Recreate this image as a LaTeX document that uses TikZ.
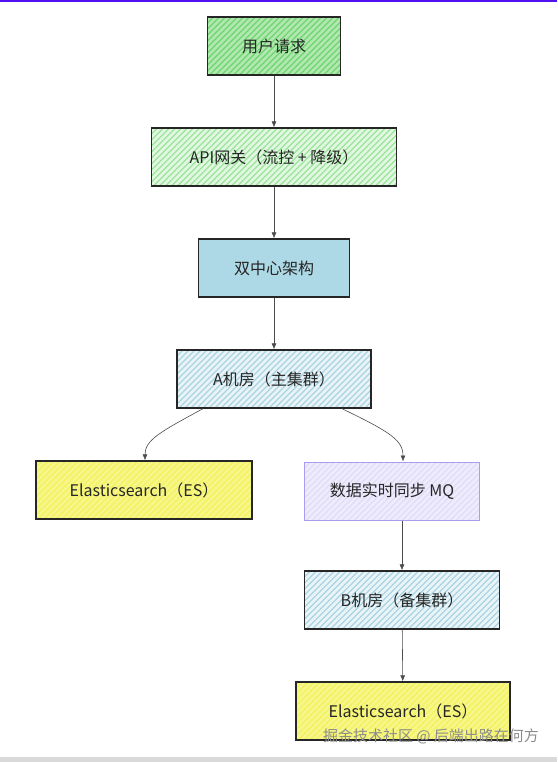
\documentclass[tikz,border=0pt]{standalone}
\usepackage{fontspec}
\setmainfont{Noto Sans CJK SC}
\usetikzlibrary{arrows.meta,positioning}

\definecolor{usergreen}{HTML}{6FD66F}
\definecolor{apigreen}{HTML}{9BE59B}
\definecolor{dcblue}{HTML}{ADD8E6}
\definecolor{roomblue}{HTML}{A9D5E2}
\definecolor{esyellow}{HTML}{F2F25A}
\definecolor{mqpurple}{HTML}{DAD5F7}
\definecolor{mqborder}{HTML}{A99DEE}

\tikzset{
  box/.style={draw=black!85, line width=1.3pt, minimum height=58pt, inner sep=0pt,
    text=black!85, font=\fontsize{16}{19}\selectfont},
  hatch/.style={path picture={%
    \foreach \i in {-70,-64,...,260}
      \draw[#1, line width=1.2pt] ([xshift=\i pt]path picture bounding box.south west) -- ++(62pt,62pt);}},
  flow/.style={draw=black!70, line width=0.6pt, -{Latex[length=6pt,width=5pt]}},
}

\begin{document}
\begin{tikzpicture}[x=1pt,y=-1pt]
\useasboundingbox (0,0) rectangle (557,762);
\fill[white] (0,0) rectangle (557,762);
% frame of the screenshot
\fill[color={rgb,255:red,80;green,16;blue,240}] (0,0) rectangle (557,2);
\fill[black!15] (0,757) rectangle (557,762);

% main chain
\node[box, minimum width=133pt, fill=usergreen!55, hatch=usergreen] (req) at (274,46) {用户请求};
\node[box, minimum width=245pt, fill=apigreen!30, hatch=apigreen] (api) at (274,157) {API网关（流控 + 降级）};
\node[box, minimum width=151pt, fill=dcblue] (dual) at (274,268) {双中心架构};
\node[box, minimum width=194pt, fill=roomblue!25, hatch=roomblue] (rooma) at (274,379) {A机房（主集群）};

% two branches
\node[box, minimum width=216pt, fill=esyellow!70, hatch=esyellow] (esa) at (144,490) {Elasticsearch（ES）};
\node[box, draw=mqborder, line width=1pt, minimum width=175pt, fill=mqpurple!45, hatch=mqpurple!80] (mq) at (392,491) {数据实时同步 MQ};
\node[box, minimum width=195pt, fill=roomblue!25, hatch=roomblue] (roomb) at (402,600) {B机房（备集群）};
\node[box, minimum width=214pt, fill=esyellow!70, hatch=esyellow] (esb) at (403,711) {Elasticsearch（ES）};

\draw[flow] (req) -- (api);
\draw[flow] (api) -- (dual);
\draw[flow] (dual) -- (rooma);
\draw[flow] (rooma.south -| 203,0) .. controls (160,432) and (145,440) .. (esa.north -| 145,0);
\draw[flow] (rooma.south -| 342,0) .. controls (390,432) and (403,440) .. (mq.north -| 403,0);
\draw[flow] (mq.south -| 402,0) -- (roomb);
\draw[flow] (roomb) -- (esb);

% watermark
\node[text=black!45, font=\fontsize{15}{17}\selectfont] (mark) at (431,736) {掘金技术社区 @ 后端出路在何方};
\end{tikzpicture}
\end{document}
